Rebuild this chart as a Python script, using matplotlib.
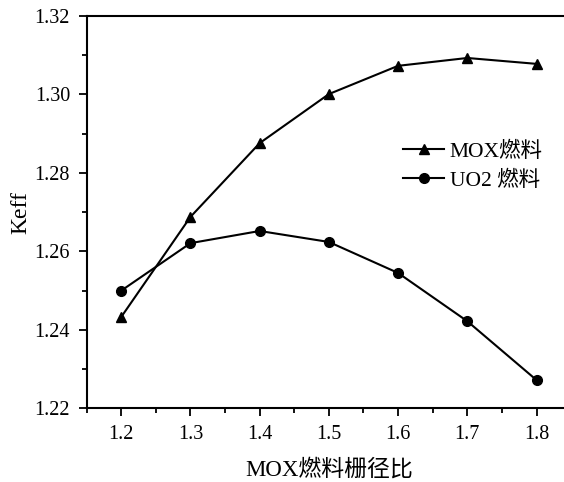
import matplotlib
matplotlib.use("Agg")
import matplotlib.pyplot as plt
from matplotlib.ticker import MultipleLocator

plt.rcParams['font.family'] = ['Liberation Serif', 'Noto Sans CJK SC']

ratio = [1.2, 1.3, 1.4, 1.5, 1.6, 1.7, 1.8]
keff_mox = [1.2433, 1.2688, 1.2876, 1.3001, 1.3073, 1.3093, 1.3078]
keff_uo2 = [1.2500, 1.2621, 1.2652, 1.2624, 1.2545, 1.2422, 1.2272]
xticks = [1.2, 1.3, 1.4, 1.5, 1.6, 1.7, 1.8]
yticks = [1.22, 1.24, 1.26, 1.28, 1.30, 1.32]

fig = plt.figure(figsize=(5.64, 4.82), dpi=100)
ax = fig.add_axes([0.1537, 0.1529, 0.8589, 0.8139])

ax.plot(ratio, keff_mox, '-^', color='black', lw=1.5, ms=7.5, label='MOX燃料')
ax.plot(ratio, keff_uo2, '-o', color='black', lw=1.5, ms=7, label='UO2 燃料')

ax.set_xlim(1.15, 1.85)
ax.set_ylim(1.22, 1.32)
ax.set_xticks(xticks)
ax.set_xticklabels([f'{v:.1f}' for v in xticks])
ax.set_yticks(yticks)
ax.set_yticklabels([f'{v:.2f}' for v in yticks])
ax.xaxis.set_minor_locator(MultipleLocator(0.05))
ax.yaxis.set_minor_locator(MultipleLocator(0.01))
ax.tick_params(which='major', direction='out', length=6, width=1.3, labelsize=14.5, pad=6)
ax.tick_params(which='minor', direction='out', length=3.5, width=1.3)
ax.tick_params(top=False, right=False)
for side in ['left', 'bottom', 'top', 'right']:
    ax.spines[side].set_linewidth(1.5)

ax.set_xlabel('MOX燃料栅径比', fontsize=16.5, labelpad=11)
ax.set_ylabel('Keff', fontsize=17, labelpad=2)

ax.legend(loc='upper left', bbox_to_anchor=(0.654, 0.68), frameon=False,
          fontsize=15.5, handlelength=1.9, handletextpad=0.25, labelspacing=0.4,
          borderaxespad=0, borderpad=0)

fig.savefig('out.png', dpi=100)
